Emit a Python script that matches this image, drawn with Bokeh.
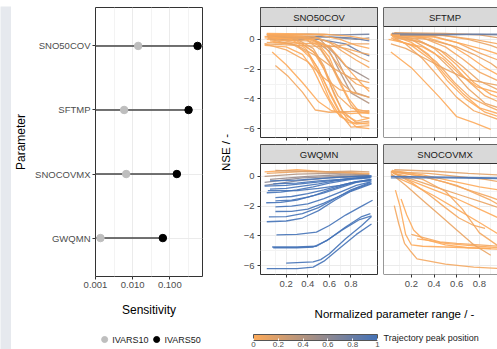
import numpy as np
from bokeh.plotting import figure
from bokeh.models import (Range1d, FactorRange, FixedTicker, NumeralTickFormatter, Legend,
                          LegendItem, ColorBar, LinearColorMapper, Label, ColumnDataSource, Span)
from bokeh.layouts import row, column
from bokeh.embed import file_html
from bokeh.resources import INLINE
from bokeh.core.properties import value

FONT = "Liberation Sans"

# ---------------- data: sensitivity (lollipop) ----------------
params = ["SNO50COV", "SFTMP", "SNOCOVMX", "GWQMN"]
ivars10 = [0.0141, 0.0059, 0.0067, 0.00136]
ivars50 = [0.56, 0.32, 0.155, 0.065]
sens_floor = 0.001

# ---------------- data: NSE trajectories per facet ----------------
sno50cov_xs = [
    [0.02, 0.4, 0.7, 0.97], [0.03, 0.5, 0.8, 0.97], [0.05, 0.5, 0.75, 0.9, 0.97], [0.1, 0.6, 0.85, 0.97],
    [0.02, 0.4, 0.6, 0.75, 0.85, 0.97], [0.03, 0.45, 0.6, 0.7, 0.8, 0.97], [0.04, 0.5, 0.65, 0.75, 0.85, 0.97],
    [0.07, 0.2, 0.35, 0.5, 0.62, 0.8, 0.97], [0.1, 0.22, 0.35, 0.47, 0.6, 0.8, 0.97],
    [0.0, 0.2, 0.35, 0.45, 0.55, 0.65, 0.78, 0.97], [0.02, 0.25, 0.4, 0.5, 0.6, 0.7, 0.8, 0.97],
    [0.02, 0.3, 0.45, 0.55, 0.65, 0.75, 0.85, 0.97], [0.03, 0.3, 0.45, 0.55, 0.62, 0.72, 0.85, 0.97],
    [0.04, 0.35, 0.5, 0.6, 0.7, 0.8, 0.9, 0.97], [0.02, 0.35, 0.5, 0.6, 0.68, 0.78, 0.88, 0.97],
    [0.05, 0.4, 0.52, 0.62, 0.72, 0.82, 0.97], [0.03, 0.4, 0.55, 0.65, 0.75, 0.85, 0.97],
    [0.0, 0.45, 0.6, 0.7, 0.8, 0.9, 0.97], [0.03, 0.45, 0.6, 0.72, 0.85, 0.97],
    [0.05, 0.5, 0.65, 0.78, 0.88, 0.97], [0.02, 0.5, 0.7, 0.85, 0.97], [0.08, 0.5, 0.75, 0.9, 0.97],
    [0.02, 0.55, 0.8, 0.97], [0.0, 0.3, 0.6, 0.8, 0.97],
    [0.05, 0.3, 0.42, 0.52, 0.6, 0.7, 0.85, 0.97], [0.1, 0.35, 0.48, 0.58, 0.68, 0.8, 0.97],
    [0.0, 0.25, 0.38, 0.48, 0.58, 0.7, 0.85, 0.97], [0.0, 0.2, 0.4, 0.55, 0.7, 0.85],
    [0.05, 0.3, 0.5, 0.65, 0.8, 0.97],
]
sno50cov_ys = [
    [0.3, 0.35, 0.3, 0.35], [0.1, 0.2, 0.1, -0.1], [0.0, 0.0, -0.3, -0.9, -1.1], [0.2, 0.15, 0.0, 0.1],
    [0.2, 0.1, -0.5, -1.8, -2.2, -2.7], [0.1, 0.0, -0.8, -2.2, -3.6, -4.3], [0.25, 0.1, -1.0, -2.5, -3.6, -3.9],
    [-0.85, -1.7, -2.9, -4.2, -4.8, -5.0, -4.9], [-1.75, -2.5, -3.55, -4.75, -4.9, -4.85, -4.8],
    [-0.4, -0.5, -1.0, -2.0, -3.5, -4.8, -5.6, -5.7], [-0.2, -0.3, -0.9, -2.0, -3.6, -5.0, -5.9, -5.8],
    [0.0, -0.1, -0.8, -2.0, -3.8, -5.2, -5.9, -6.0], [0.1, 0.0, -0.6, -1.8, -3.2, -4.8, -5.6, -5.5],
    [0.2, 0.1, -0.4, -1.5, -3.0, -4.4, -5.2, -5.3], [0.3, 0.2, -0.3, -1.2, -2.6, -4.0, -4.9, -5.0],
    [0.0, -0.1, -0.7, -1.8, -3.0, -3.6, -3.9], [0.25, 0.15, -0.4, -1.4, -2.4, -3.0, -3.3],
    [0.1, 0.0, -0.5, -1.3, -2.2, -3.0, -3.5], [0.3, 0.2, -0.2, -0.8, -1.4, -1.9],
    [0.15, 0.05, -0.3, -0.8, -1.2, -1.5], [0.35, 0.3, 0.0, -0.4, -0.6], [-0.2, -0.3, -0.6, -0.9, -1.0],
    [0.4, 0.35, 0.2, 0.0], [-0.3, -0.4, -0.5, -0.3, -0.3],
    [-0.1, -0.4, -1.2, -2.6, -4.0, -5.2, -5.7, -5.6], [0.0, -0.3, -1.0, -2.4, -3.8, -4.6, -4.9],
    [0.2, 0.0, -0.6, -1.8, -3.2, -4.9, -5.5, -5.3], [-0.3, -0.7, -1.5, -2.6, -3.4, -3.6],
    [0.0, -0.4, -1.2, -2.0, -2.6, -2.9],
]
sno50cov_peak = [0.75, 0.85, 0.8, 0.65, 0.5, 0.4, 0.3] + [0.0, 0.05, 0.0, 0.05, 0.0, 0.1, 0.05, 0.0,
                 0.1, 0.05, 0.0, 0.05, 0.1, 0.0, 0.05, 0.0, 0.1, 0.0, 0.05, 0.0, 0.05, 0.1]

sftmp_xs = [
    [0.02, 0.2, 0.45, 0.6, 0.75, 0.9], [0.03, 0.15, 0.3, 0.45, 0.6, 0.75, 0.97],
    [0.02, 0.2, 0.35, 0.5, 0.65, 0.8, 0.97], [0.04, 0.2, 0.4, 0.55, 0.7, 0.85, 0.97],
    [0.02, 0.25, 0.4, 0.55, 0.7, 0.85, 0.97], [0.03, 0.25, 0.45, 0.6, 0.75, 0.9, 0.97],
    [0.05, 0.3, 0.5, 0.65, 0.8, 0.97], [0.02, 0.3, 0.5, 0.65, 0.8, 0.97],
    [0.03, 0.35, 0.55, 0.7, 0.85, 0.97], [0.05, 0.35, 0.6, 0.75, 0.9, 0.97],
    [0.02, 0.4, 0.6, 0.8, 0.97], [0.04, 0.4, 0.65, 0.85, 0.97], [0.03, 0.45, 0.7, 0.9, 0.97],
    [0.02, 0.5, 0.75, 0.97], [0.05, 0.5, 0.8, 0.97], [0.03, 0.4, 0.7, 0.97], [0.1, 0.5, 0.8, 0.97],
    [0.02, 0.2, 0.38, 0.52, 0.68, 0.85, 0.97], [0.04, 0.25, 0.42, 0.58, 0.72, 0.88, 0.97],
    [0.0, 0.3, 0.48, 0.62, 0.78, 0.97], [0.02, 0.15, 0.3, 0.5, 0.7, 0.97],
]
sftmp_ys = [
    [-0.85, -1.9, -3.9, -5.2, -5.6, -6.05], [0.2, -0.3, -1.3, -2.6, -3.9, -4.8, -5.4],
    [0.3, -0.2, -1.0, -2.4, -3.6, -4.6, -5.0], [0.25, 0.0, -0.9, -2.0, -3.3, -4.3, -4.6],
    [0.3, 0.0, -0.6, -1.6, -2.8, -3.8, -4.2], [0.2, -0.1, -0.7, -1.7, -2.9, -3.7, -3.9],
    [0.1, -0.2, -0.9, -1.8, -2.8, -3.4], [0.35, 0.1, -0.5, -1.3, -2.2, -2.8],
    [0.3, 0.1, -0.4, -1.1, -1.9, -2.4], [0.2, 0.0, -0.5, -1.0, -1.6, -2.0],
    [0.35, 0.2, -0.2, -0.9, -1.4], [0.25, 0.15, -0.3, -0.7, -1.0], [0.4, 0.3, 0.0, -0.4, -0.6],
    [0.3, 0.25, 0.0, -0.3], [0.45, 0.4, 0.3, 0.1], [0.4, 0.35, 0.35, 0.3], [0.3, 0.3, 0.35, 0.35],
    [0.1, -0.4, -1.4, -2.8, -4.0, -4.9, -5.2], [0.0, -0.5, -1.5, -2.9, -3.9, -4.5, -4.8],
    [0.0, -0.5, -1.3, -2.3, -3.2, -3.6], [-0.3, -0.6, -1.2, -2.0, -2.7, -3.1],
]
sftmp_peak = [0.0, 0.05, 0.0, 0.1, 0.05, 0.0, 0.1, 0.05, 0.0, 0.1, 0.05, 0.0, 0.1, 0.05, 0.15,
              0.6, 0.8, 0.0, 0.05, 0.0, 0.1]

gwqmn_xs = [
    [0.0, 0.3, 0.6, 0.97], [0.02, 0.4, 0.7, 0.97], [0.0, 0.3, 0.6, 0.97], [0.05, 0.4, 0.7, 0.97],
    [0.0, 0.35, 0.7, 0.97], [0.1, 0.5, 0.8, 0.97], [0.0, 0.3, 0.6, 0.97],
    [0.02, 0.3, 0.45, 0.55, 0.7, 0.85, 0.99], [0.2, 0.45, 0.52, 0.6, 0.75, 0.9, 0.99],
    [0.07, 0.3, 0.48, 0.6, 0.75, 0.9, 0.98], [0.08, 0.3, 0.45, 0.58, 0.72, 0.88, 0.99],
    [0.11, 0.3, 0.48, 0.6, 0.75, 0.9, 1.0], [0.02, 0.2, 0.35, 0.5, 0.65, 0.8, 0.99],
    [0.04, 0.2, 0.35, 0.5, 0.65, 0.8, 0.98], [0.1, 0.25, 0.4, 0.55, 0.7, 0.85, 0.99],
    [0.1, 0.25, 0.4, 0.55, 0.7, 0.85, 0.99], [0.015, 0.15, 0.3, 0.45, 0.6, 0.8, 0.98],
    [0.1, 0.25, 0.4, 0.55, 0.7, 0.85, 0.99], [0.1, 0.25, 0.4, 0.55, 0.7, 0.85, 0.99],
    [0.02, 0.15, 0.3, 0.45, 0.6, 0.8, 0.98], [0.05, 0.2, 0.35, 0.5, 0.65, 0.8, 0.99],
    [0.0, 0.2, 0.4, 0.6, 0.8, 0.98], [0.08, 0.3, 0.5, 0.7, 0.85, 0.99], [0.05, 0.3, 0.5, 0.7, 0.99],
    [0.03, 0.3, 0.5, 0.7, 0.85, 0.98],
]
gwqmn_ys = [
    [0.3, 0.45, 0.3, 0.2], [0.2, 0.35, 0.25, 0.15], [0.0, 0.15, 0.2, 0.1], [-0.2, 0.0, 0.1, 0.05],
    [-0.4, -0.1, 0.0, 0.0], [0.4, 0.3, 0.35, 0.3], [-0.6, -0.3, -0.1, 0.0],
    [-6.2, -6.2, -6.1, -5.7, -4.8, -3.9, -3.2], [-5.83, -5.75, -5.6, -5.2, -4.2, -3.3, -2.7],
    [-4.75, -4.75, -4.7, -4.2, -3.4, -2.7, -2.5], [-4.8, -4.8, -4.75, -4.3, -3.6, -2.9, -2.65],
    [-3.93, -3.9, -3.75, -3.3, -2.6, -2.0, -1.6], [-3.05, -3.0, -2.8, -2.3, -1.6, -1.0, -0.5],
    [-2.72, -2.7, -2.5, -2.1, -1.5, -0.9, -0.4], [-2.36, -2.35, -2.2, -1.8, -1.3, -0.8, -0.45],
    [-2.05, -2.0, -1.85, -1.5, -1.05, -0.6, -0.35], [-1.77, -1.75, -1.6, -1.3, -0.9, -0.45, -0.2],
    [-1.64, -1.6, -1.4, -1.1, -0.75, -0.4, -0.25], [-1.42, -1.35, -1.15, -0.9, -0.6, -0.35, -0.2],
    [-1.1, -1.05, -0.9, -0.7, -0.45, -0.2, -0.1], [-0.85, -0.8, -0.65, -0.5, -0.3, -0.15, -0.05],
    [-0.65, -0.6, -0.45, -0.3, -0.15, -0.05], [-0.5, -0.45, -0.3, -0.2, -0.1, 0.0],
    [-0.3, -0.25, -0.15, -0.05, 0.05], [-0.95, -0.95, -0.8, -0.6, -0.35, -0.3],
]
gwqmn_peak = [0.0, 0.1, 0.4, 0.55, 0.6, 0.2, 0.7] + [1.0] * 18

snocovmx_xs = [
    [0.06, 0.1, 0.15, 0.2, 0.3, 0.5, 0.7, 0.9], [0.05, 0.09, 0.14, 0.19, 0.25, 0.5, 0.75, 0.97],
    [0.11, 0.16, 0.22, 0.3, 0.5, 0.7, 0.97], [0.2, 0.3, 0.45, 0.6, 0.8, 0.97],
    [0.25, 0.35, 0.5, 0.65, 0.8, 0.97], [0.02, 0.15, 0.3, 0.45, 0.6, 0.75, 0.9],
    [0.03, 0.2, 0.35, 0.5, 0.62, 0.75, 0.85], [0.02, 0.2, 0.4, 0.6, 0.8, 0.97],
    [0.04, 0.25, 0.45, 0.65, 0.85, 0.97], [0.02, 0.3, 0.5, 0.7, 0.9, 0.97],
    [0.03, 0.3, 0.55, 0.8, 0.97], [0.02, 0.35, 0.6, 0.85, 0.97], [0.05, 0.4, 0.7, 0.97],
    [0.03, 0.3, 0.6, 0.9, 0.97], [0.02, 0.2, 0.4, 0.6, 0.8, 0.97], [0.05, 0.3, 0.5, 0.65, 0.8, 0.97],
    [0.02, 0.5, 0.97], [0.02, 0.5, 0.97],
]
snocovmx_ys = [
    [-0.92, -2.0, -3.9, -4.6, -4.7, -4.75, -4.8, -4.85], [-1.97, -3.2, -4.5, -5.0, -5.55, -5.9, -6.1, -6.2],
    [-1.52, -2.6, -3.6, -4.2, -4.6, -4.8, -4.9], [-3.9, -4.1, -4.4, -4.5, -4.6, -4.7],
    [-4.2, -4.3, -4.5, -4.6, -4.7, -4.8], [0.2, -0.6, -1.6, -2.6, -3.6, -4.6, -5.3],
    [0.3, -0.4, -1.2, -2.1, -2.8, -3.3, -3.5], [0.3, -0.3, -0.9, -1.5, -2.2, -2.8],
    [0.2, -0.3, -0.8, -1.3, -1.8, -2.1], [0.35, 0.0, -0.4, -0.9, -1.4, -1.6],
    [0.4, 0.1, -0.3, -0.7, -0.9], [0.3, 0.2, 0.0, -0.2, -0.35], [0.45, 0.35, 0.2, 0.1],
    [0.3, 0.0, -0.6, -1.6, -1.9], [0.1, -0.5, -1.3, -2.2, -3.1, -3.9], [0.2, -0.2, -1.0, -2.2, -3.8, -4.7],
    [0.0, -0.05, -0.1], [-0.1, -0.1, -0.15],
]
snocovmx_peak = [0.0, 0.05, 0.0, 0.05, 0.0, 0.1, 0.05, 0.0, 0.1, 0.05, 0.0, 0.1, 0.15, 0.05, 0.0,
                 0.05, 1.0, 0.95]

# ---------------- styling helpers ----------------
LOW = (253, 170, 90)
HIGH = (68, 114, 183)


def mix(p):
    return "#%02x%02x%02x" % tuple(int(round(l + (h - l) * p)) for l, h in zip(LOW, HIGH))


PAGE_BG = "#e6e9ee"
DARK = "#333333"
TICKLAB = "#4d4d4d"
GRID = "#ebebeb"
MINOR = "#f3f3f3"
PX_PER_X = 113.5
Y_LO, Y_PANEL_TOP = -6.6, 0.87


def blank(width, height, fill="white"):
    b = figure(width=width, height=height, x_axis_type=None, y_axis_type=None,
               x_range=Range1d(0, 1), y_range=Range1d(0, 1), output_backend="svg",
               toolbar_location=None, min_border=0, outline_line_color=None)
    b.background_fill_color = fill
    b.border_fill_color = fill
    return b


def style_axis(ax, label_size="9.5px"):
    ax.axis_line_color = None
    ax.major_tick_line_color = DARK
    ax.major_tick_in = 0
    ax.major_tick_out = 3
    ax.minor_tick_line_color = None
    ax.major_label_text_font = FONT
    ax.major_label_text_font_size = label_size
    ax.major_label_text_color = TICKLAB
    ax.major_label_standoff = 2


def make_facet(name, xs, ys, peak, left_col, top_row):
    width = 140 if left_col else 117
    height = 137 if top_row else 147
    mbl = 14 if left_col else 3
    mbr = 3 if left_col else 0
    mbb = 6 if top_row else 16
    x0 = -0.038 if left_col else -0.045
    frame_w = width - mbl - mbr
    x1 = x0 + frame_w / PX_PER_X
    full_x1 = x0 + 123 / PX_PER_X
    frame_h = height - 1 - mbb
    strip_px = frame_h - 111
    y1 = Y_PANEL_TOP + strip_px * (Y_PANEL_TOP - Y_LO) / 111
    p = figure(width=width, height=height, x_range=Range1d(x0, x1), y_range=Range1d(Y_LO, y1),
               output_backend="svg", toolbar_location=None,
               min_border_left=mbl, min_border_right=mbr, min_border_top=1, min_border_bottom=mbb,
               y_axis_location="left" if left_col else None)
    xticks = [0.2, 0.4, 0.6, 0.8]
    xt = FixedTicker(ticks=xticks, minor_ticks=[0.1, 0.3, 0.5, 0.7, 0.9])
    yt = FixedTicker(ticks=[-6, -4, -2, 0], minor_ticks=[-5, -3, -1])
    p.xaxis.ticker = xt
    p.xgrid.ticker = xt
    p.ygrid.ticker = yt
    if left_col:
        p.yaxis.ticker = yt
        style_axis(p.yaxis[0])
    style_axis(p.xaxis[0])
    if top_row:
        p.xaxis.major_label_overrides = {t: "" for t in xticks}
        p.xaxis.major_label_standoff = 0
    for g in (p.xgrid[0], p.ygrid[0]):
        g.grid_line_color = GRID
        g.grid_line_width = 1
        g.minor_grid_line_color = MINOR
        g.minor_grid_line_width = 1
    src = ColumnDataSource(dict(xs=xs, ys=ys, color=[mix(v) for v in peak]))
    p.multi_line("xs", "ys", line_color="color", line_width=1.3, line_alpha=0.9, source=src)
    p.quad(left=[x0], right=[x1], bottom=[Y_PANEL_TOP], top=[y1],
           fill_color="#d9d9d9", line_color=DARK, line_width=1)
    p.text(x=[(x0 + full_x1) / 2], y=[(Y_PANEL_TOP + y1) / 2], text=[name],
           text_font=value(FONT), text_font_size="9.5px", text_align="center",
           text_baseline="middle", text_color="#1a1a1a")
    if left_col:
        p.outline_line_color = DARK
        p.outline_line_width = 1
    else:
        p.outline_line_color = None
        p.add_layout(Span(location=x0, dimension="height", line_color=DARK, line_width=1))
        p.add_layout(Span(location=Y_LO, dimension="width", line_color=DARK, line_width=1))
        p.add_layout(Span(location=y1, dimension="width", line_color=DARK, line_width=1))
    return p


# ---------------- left: lollipop ----------------
L = figure(width=207, height=323,
           y_range=FactorRange(factors=params[::-1], range_padding=0.1, range_padding_units="absolute"),
           x_range=Range1d(0.001, 0.76), x_axis_type="log", output_backend="svg",
           toolbar_location=None, min_border_left=83, min_border_right=16,
           min_border_top=1, min_border_bottom=53)
L.segment(x0=[sens_floor] * len(params), y0=params, x1=ivars50, y1=params,
          line_color="#454545", line_width=1.5)
L.scatter(x=ivars10, y=params, size=7.5, color="#bebebe")
L.scatter(x=ivars50, y=params, size=7.5, color="black")
L.xaxis.ticker = FixedTicker(ticks=[0.001, 0.01, 0.1], minor_ticks=[10 ** -2.5, 10 ** -1.5, 10 ** -0.5])
L.xaxis.formatter = NumeralTickFormatter(format="0.000")
style_axis(L.xaxis[0])
style_axis(L.yaxis[0])
L.xaxis.major_label_standoff = 1
L.xaxis.axis_label = "Sensitivity"
L.yaxis.axis_label = "Parameter"
for ax, so in ((L.xaxis[0], 12), (L.yaxis[0], 4)):
    ax.axis_label_text_font = FONT
    ax.axis_label_text_font_size = "12px"
    ax.axis_label_text_font_style = "normal"
    ax.axis_label_text_color = "black"
    ax.axis_label_standoff = so
L.xgrid.grid_line_color = GRID
L.xgrid.minor_grid_line_color = MINOR
L.ygrid.grid_line_color = GRID
L.outline_line_color = DARK
L.outline_line_width = 1

# legend-only strip: same series, plotted on a range that keeps the points out of view,
# so only the legend keys are seen (its frame is aligned with the lollipop frame)
LL = figure(width=207, height=20, x_range=Range1d(1, 2), y_range=FactorRange(factors=params),
            x_axis_location=None, y_axis_location=None, output_backend="svg",
            toolbar_location=None, min_border=0, outline_line_color=None)
LL.xgrid.visible = False
LL.ygrid.visible = False
k10 = LL.scatter(x=ivars10, y=params, size=7, color="#bebebe")
k50 = LL.scatter(x=ivars50, y=params, size=7, color="black")
leg = Legend(items=[LegendItem(label="IVARS10", renderers=[k10], index=0),
                    LegendItem(label="IVARS50", renderers=[k50], index=0)],
             orientation="horizontal", location="center", padding=0, margin=0, spacing=0,
             glyph_width=15, glyph_height=17, label_height=17, label_standoff=1,
             label_text_font=FONT, label_text_font_size="9px", label_text_color="#1a1a1a",
             border_line_color=None, background_fill_color=None)
LL.add_layout(leg, "center")

# y title of the facets
S = blank(22, 343)
S.add_layout(Label(x=7, y=197, x_units="screen", y_units="screen", text="NSE / -", angle=np.pi / 2,
                   text_align="center", text_baseline="middle", text_font=FONT,
                   text_font_size="11.5px", text_color="black"))

F11 = make_facet("SNO50COV", sno50cov_xs, sno50cov_ys, sno50cov_peak, True, True)
F12 = make_facet("SFTMP", sftmp_xs, sftmp_ys, sftmp_peak, False, True)
F21 = make_facet("GWQMN", gwqmn_xs, gwqmn_ys, gwqmn_peak, True, False)
F22 = make_facet("SNOCOVMX", snocovmx_xs, snocovmx_ys, snocovmx_peak, False, False)

# bottom: x title + colour bar
B = blank(257, 59)
B.add_layout(Label(x=154, y=36, x_units="screen", y_units="screen",
                   text="Normalized parameter range / -", text_align="center", text_baseline="middle",
                   text_font=FONT, text_font_size="11.5px", text_color="black"))
mapper = LinearColorMapper(palette=[mix(i / 255) for i in range(256)], low=0, high=1)
cb_ticks = [0, 0.2, 0.4, 0.6, 0.8, 1]
cb = ColorBar(color_mapper=mapper, orientation="horizontal", width=124, height=6, location=(13, 0),
              padding=0, margin=0, ticker=FixedTicker(ticks=cb_ticks),
              major_label_overrides={0: "0", 0.2: "0.2", 0.4: "0.4", 0.6: "0.6", 0.8: "0.8", 1: "1"},
              major_label_text_font=FONT, major_label_text_font_size="8px",
              major_label_text_color=TICKLAB, major_tick_line_color="white", major_tick_in=2,
              major_tick_out=0, minor_tick_line_color=None, bar_line_color="#555555",
              label_standoff=1, border_line_color=None, background_fill_color=None)
B.add_layout(cb, "center")
B.add_layout(Label(x=143, y=12, x_units="screen", y_units="screen", text="Trajectory peak position",
                   text_align="left", text_baseline="middle", text_font=FONT,
                   text_font_size="9px", text_color="#1a1a1a"))

top_gray = blank(497, 6, PAGE_BG)
left_gray = blank(11, 343, PAGE_BG)
right = column(row(F11, F12), row(F21, F22), B)
layout = column(top_gray, row(left_gray, column(L, LL), S, right))

open("out.html", "w").write(file_html(layout, INLINE))
